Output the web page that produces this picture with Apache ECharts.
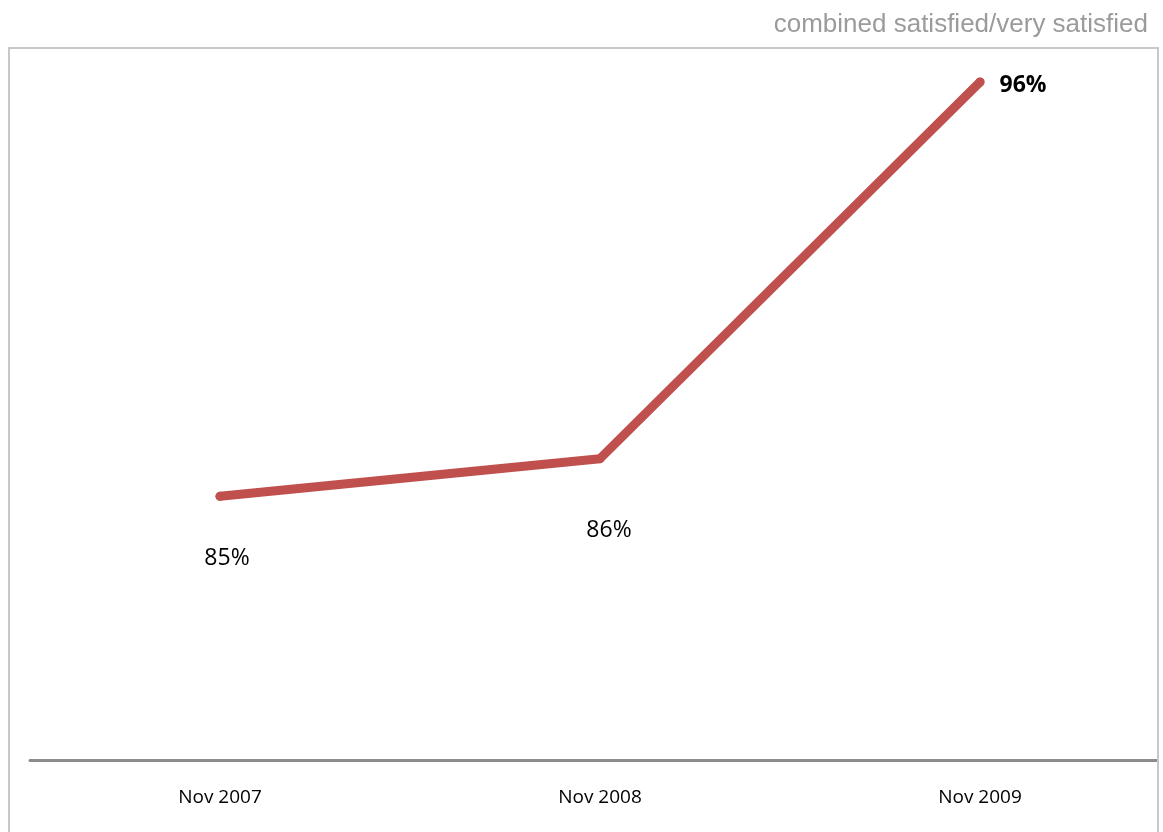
<!DOCTYPE html>
<html>
<head>
<meta charset="utf-8">
<script src="https://cdn.jsdelivr.net/npm/echarts@6/dist/echarts.min.js"></script>
<style>html,body{margin:0;padding:0;background:#fff}#c{width:1163px;height:832px}</style>
</head>
<body>
<div id="c"></div>
<script>
var categories = ['Nov 2007', 'Nov 2008', 'Nov 2009'];
var values = [85, 86, 96];
var valueLabels = ['85%', '86%', '96%'];
var titleText = 'combined satisfied/very satisfied';

var labelStyles = [
  {offset: [7, 62], fontWeight: 'normal'},
  {offset: [9, 72], fontWeight: 'normal'},
  {offset: [43, 3], fontWeight: 'bold'}
];

var chart = echarts.init(document.getElementById('c'), null, {renderer: 'canvas'});
chart.setOption({
  animation: false,
  backgroundColor: '#ffffff',
  title: {
    text: titleText,
    right: 10,
    top: 7,
    textStyle: {fontFamily: 'Liberation Sans', fontSize: 26, fontWeight: 'normal', color: '#9b9b9b'}
  },
  grid: {left: 30, width: 1140, top: 82, height: 678, containLabel: false, outerBoundsMode: 'none'},
  xAxis: {
    type: 'category',
    data: categories,
    boundaryGap: true,
    axisLine: {show: true, lineStyle: {color: '#8c8c8c', width: 3}},
    axisTick: {show: false},
    axisLabel: {margin: 28, fontFamily: 'Open Sans', fontSize: 19, color: '#000'},
    splitLine: {show: false}
  },
  yAxis: {
    type: 'value',
    min: 78,
    max: 96,
    show: false,
    splitLine: {show: false}
  },
  series: [{
    type: 'line',
    data: values.map(function (v, i) {
      return {
        value: v,
        label: {
          show: true,
          position: 'inside',
          formatter: valueLabels[i],
          offset: labelStyles[i].offset,
          fontWeight: labelStyles[i].fontWeight,
          fontFamily: 'Open Sans',
          fontSize: 23,
          color: '#000'
        }
      };
    }),
    symbol: 'circle',
    symbolSize: 9,
    itemStyle: {color: '#c0504d'},
    lineStyle: {color: '#c0504d', width: 9, cap: 'round', join: 'round'},
    z: 3
  }],
  graphic: [
    {type: 'rect', z: 100, shape: {x: 1159, y: 40, width: 10, height: 800}, style: {fill: '#ffffff'}},
    {type: 'rect', z: 101, shape: {x: 9, y: 48, width: 1149, height: 820}, style: {fill: 'none', stroke: '#c8c8c8', lineWidth: 2}}
  ]
});
</script>
</body>
</html>
